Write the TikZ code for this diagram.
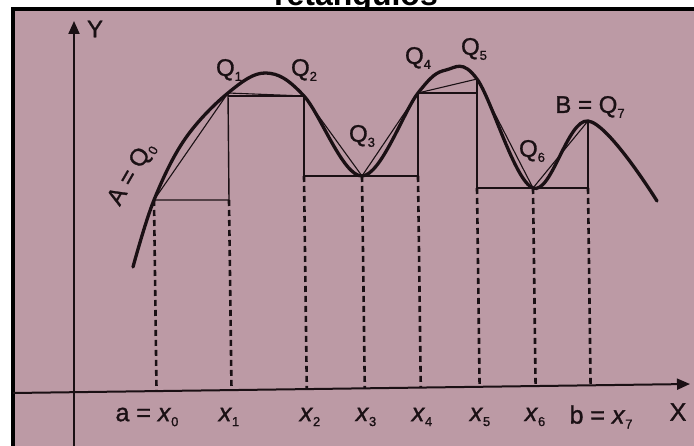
\documentclass[tikz,border=0pt]{standalone}
\usepackage{fontspec}
\setmainfont{Liberation Sans}
\newfontfamily\lblfont{Liberation Sans}[FakeBold=1.2]
\usetikzlibrary{arrows.meta,calc}
\definecolor{paper}{HTML}{BC9AA5}
\definecolor{inkc}{HTML}{1A1014}
\newcommand\sbs[1]{\raisebox{-5pt}{\fontsize{13}{13}\selectfont #1}}
\begin{document}
\begin{tikzpicture}[x=1pt,y=-1pt,
  curve/.style={draw=inkc,line width=3.3pt,line cap=round},
  chord/.style={draw=inkc,line width=1.1pt},
  rectl/.style={draw=inkc,line width=1.4pt},
  dashl/.style={draw=inkc,line width=2.6pt,dash pattern=on 6pt off 4pt},
  axis/.style={draw=inkc,line width=2pt,-{Triangle[length=13pt,width=11pt]}},
  lbl/.style={inner sep=0pt,text=inkc,font=\lblfont\fontsize{24}{26}\selectfont},
  xlbl/.style={inner sep=0pt,text=inkc,font=\lblfont\fontsize{25}{28}\selectfont}]
\useasboundingbox (0,0) rectangle (694,446);
\clip (0,0) rectangle (694,446);
\fill[white] (0,0) rectangle (694,446);
\node[anchor=base,inner sep=0pt,font=\bfseries\fontsize{32}{32}\selectfont] (title) at (356,6) {retangulos};
\fill[paper] (13,9) rectangle (694,446);
\fill[black] (11,7) rectangle (694,11);
\fill[black] (11,7) rectangle (15,446);
% axes
\coordinate (axL) at (13,393);
\coordinate (axR) at (690,384);
\coordinate (ayB) at (74,446);
\coordinate (ayT) at (74,21);
\draw[axis] (axL) -- (axR);
\draw[axis] (ayB) -- (ayT);
% points
\coordinate (S) at (133,267);
\coordinate (Q0) at (154,200);
\coordinate (M0) at (185,139);
\coordinate (Q1) at (228,93);
\coordinate (P1) at (266,73);
\coordinate (Q2) at (304,96);
\coordinate (Q3) at (362,176);
\coordinate (Q4) at (418,93);
\coordinate (P4) at (446,70);
\coordinate (Q5) at (477,79);
\coordinate (Q6) at (533,188);
\coordinate (Q7) at (588,121);
\coordinate (E) at (657,201);
% rectangle corners
\coordinate (R1) at (229,200);
\coordinate (R2) at (304,176);
\coordinate (R4) at (418,176);
\coordinate (R5) at (477,188);
\coordinate (R7) at (588,188);
\coordinate (T2) at (228,96);
\coordinate (T5) at (477,93);
% dashed verticals to axis
\foreach \p in {Q0,R1,R2,Q3,R4,R5,Q6,R7}
  \draw[dashl] (\p) -- ($(axL)!(\p)!(axR)$);
% lower rectangles
\draw[rectl] (Q0) -- (R1) -- (Q1);
\draw[rectl] (T2) -- (Q2) -- (R2);
\draw[rectl] (R2) -- (R4) -- (Q4) -- (T5);
\draw[rectl] (Q5) -- (R5) -- (R7) -- (Q7);
% chords
\draw[chord] (Q0) -- (Q1) -- (Q2) -- (Q3) -- (Q4) -- (Q5) -- (Q6) -- (Q7);
% curve
\draw[curve] plot[smooth,tension=0.6] coordinates {(S) (Q0) (M0) (Q1) (P1) (Q2) (Q3) (Q4) (P4) (Q5) (Q6) (Q7) (E)};
% labels
\node[lbl] (lY) at (95,29) {Y};
\node[xlbl] (lX) at (678,412) {X};
\node[lbl] (lQ1) at (229,70) {Q\sbs{1}};
\node[lbl] (lQ2) at (304,70) {Q\sbs{2}};
\node[lbl] (lQ3) at (362,136) {Q\sbs{3}};
\node[lbl] (lQ4) at (418,58) {Q\sbs{4}};
\node[lbl] (lQ5) at (474,49) {Q\sbs{5}};
\node[lbl] (lQ6) at (532,151) {Q\sbs{6}};
\node[lbl] (lB) at (590,107) {B = Q\sbs{7}};
\node[lbl,rotate=60] (lA) at (132,174) {A = Q\sbs{0}};
\node[xlbl] (la) at (147,417) {a = \textit{x}\sbs{0}};
\node[xlbl] (l1) at (229,417) {\textit{x}\sbs{1}};
\node[xlbl] (l2) at (310,417) {\textit{x}\sbs{2}};
\node[xlbl] (l3) at (366,417) {\textit{x}\sbs{3}};
\node[xlbl] (l4) at (422,417) {\textit{x}\sbs{4}};
\node[xlbl] (l5) at (480,417) {\textit{x}\sbs{5}};
\node[xlbl] (l6) at (535,417) {\textit{x}\sbs{6}};
\node[xlbl] (lb) at (601,417) {b = \textit{x}\sbs{7}};
\end{tikzpicture}
\end{document}
